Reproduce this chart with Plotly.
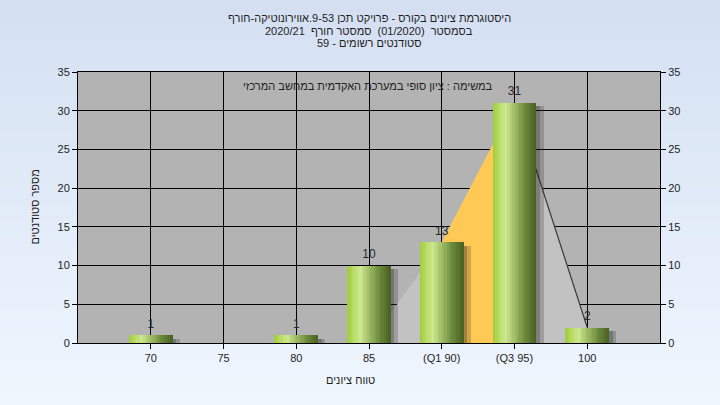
import base64, struct, zlib
import plotly.graph_objects as go

# ---------------- data ----------------
categories = ["70", "75", "80", "85", "(Q1 90)", "(Q3 95)", "100"]
students = [1, 0, 1, 10, 13, 31, 2]
# distribution area drawn behind the bars (from 85 to 100)
area_idx = [3, 4, 5, 6]
area_vals = [0, 13, 31, 2]
q_idx = [4, 5]          # Q1 .. Q3 highlighted band
y_ticks = [0, 5, 10, 15, 20, 25, 30, 35]

title_lines = [
    "היסטוגרמת ציונים בקורס - פרויקט תכן 53\u200f-\u200f9.אווירונוטיקה-חורף",
    "בסמסטר\u00a0 (01/2020)\u00a0 סמסטר חורף\u00a0 2020/21",
    "סטודנטים רשומים - 59",
]
subtitle = "במשימה : ציון סופי במערכת האקדמית במחשב המרכזי"
x_title = "טווח ציונים"
y_title = "מספר סטודנטים"

# ---------------- layout constants ----------------
W, H = 720, 405
ML, MR, MT, MB = 78, 60, 72, 62
PW, PH = W - ML - MR, H - MT - MB
FONT = "Liberation Sans, Arial, sans-serif"
FS = 11
TXT = "#1e1e1e"


def px_to_paper_y(py):
    return 1 - (py - MT) / PH


def px_to_paper_x(px):
    return (px - ML) / PW


# background gradient png (vertical)
def gradient_png(top, bottom, n=64):
    rows = []
    for i in range(n):
        t = i / (n - 1)
        c = [round(top[k] + (bottom[k] - top[k]) * t) for k in range(3)]
        rows.append(b"\x00" + bytes(c))
    raw = b"".join(rows)

    def chunk(tag, data):
        return struct.pack(">I", len(data)) + tag + data + struct.pack(">I", zlib.crc32(tag + data) & 0xffffffff)

    png = b"\x89PNG\r\n\x1a\n" + chunk(b"IHDR", struct.pack(">IIBBBBB", 1, n, 8, 2, 0, 0, 0))
    png += chunk(b"IDAT", zlib.compress(raw)) + chunk(b"IEND", b"")
    return "data:image/png;base64," + base64.b64encode(png).decode()


bg_src = gradient_png((212, 224, 242), (239, 246, 254))

fig = go.Figure()
xs = list(range(len(categories)))

# distribution area (base subplot, under the bars)
fig.add_trace(go.Scatter(x=area_idx, y=area_vals, mode="lines", line=dict(width=0),
                         fill="tozeroy", fillcolor="#c2c2c2", hoverinfo="skip", showlegend=False))
qa = [area_vals[area_idx.index(i)] for i in q_idx]
fig.add_trace(go.Scatter(x=q_idx, y=qa, mode="lines", line=dict(width=0),
                         fill="tozeroy", fillcolor="#ffc955", hoverinfo="skip", showlegend=False))
fig.add_trace(go.Scatter(x=area_idx[2:], y=area_vals[2:], mode="lines",
                         line=dict(width=1.2, color="#3a3a3a"), hoverinfo="skip", showlegend=False))

# bars on overlaying axes so they sit above the area
BW = 0.6
shadow_y = [v - 0.45 if v > 0 else 0 for v in students]
for dx, a in [(0.05, 0.25), (0.10, 0.22)]:
    fig.add_trace(go.Bar(x=xs, y=shadow_y, width=BW, offset=-BW / 2 + dx, xaxis="x2", yaxis="y2",
                         marker=dict(color="rgba(30,30,30,%s)" % a, line=dict(width=0)),
                         hoverinfo="skip", showlegend=False))

stops = [(0.0, (158, 204, 58)), (0.15, (186, 221, 102)), (0.3, (206, 231, 146)),
         (0.5, (160, 188, 100)), (0.75, (106, 136, 60)), (1.0, (72, 96, 32))]


def grad(t):
    for (p0, c0), (p1, c1) in zip(stops, stops[1:]):
        if p0 <= t <= p1:
            u = (t - p0) / (p1 - p0)
            return "rgb(%d,%d,%d)" % tuple(round(c0[k] + (c1[k] - c0[k]) * u) for k in range(3))
    return "rgb(72,96,32)"


N = 18
for i in range(N):
    t = (i + 0.5) / N
    fig.add_trace(go.Bar(x=xs, y=students, xaxis="x2", yaxis="y2",
                         width=BW * (N - i) / N, offset=-BW / 2 + BW * i / N,
                         marker=dict(color=grad(t), line=dict(width=0)),
                         hoverinfo="skip", showlegend=False))

# value labels
fig.add_trace(go.Scatter(x=xs, y=students, mode="markers+text", xaxis="x2", yaxis="y2",
                         marker=dict(size=6, opacity=0),
                         text=[str(v) if v else "" for v in students], textposition="top center",
                         textfont=dict(family=FONT, size=12, color="#2a2a2a"),
                         hoverinfo="skip", showlegend=False))

axis_common = dict(ticks="outside", ticklen=5, tickcolor="black", showline=True, linecolor="black",
                   linewidth=1, tickfont=dict(family=FONT, size=FS, color=TXT), zeroline=False)

annotations = []
for k, line in enumerate(title_lines):
    annotations.append(dict(text=line, x=0.5, xref="paper", xanchor="center",
                            y=px_to_paper_y([18, 31, 43][k]), yref="paper", yanchor="middle",
                            showarrow=False, font=dict(family=FONT, size=FS, color=TXT)))
annotations.append(dict(text=subtitle, x=px_to_paper_x(368), xref="paper", xanchor="center",
                        y=px_to_paper_y(86), yref="paper", yanchor="middle",
                        showarrow=False, font=dict(family=FONT, size=FS, color=TXT)))
annotations.append(dict(text=x_title, x=px_to_paper_x(350), xref="paper", xanchor="center",
                        y=px_to_paper_y(380), yref="paper", yanchor="middle",
                        showarrow=False, font=dict(family=FONT, size=FS, color=TXT)))
annotations.append(dict(text=y_title, x=px_to_paper_x(34), xref="paper", xanchor="center",
                        y=0.5, yref="paper", yanchor="middle", textangle=-90,
                        showarrow=False, font=dict(family=FONT, size=FS, color=TXT)))

fig.update_layout(
    width=W, height=H, margin=dict(l=ML, r=MR, t=MT, b=MB, pad=0),
    paper_bgcolor="#e2ebf8", plot_bgcolor="rgba(0,0,0,0)",
    barmode="overlay", bargap=0, showlegend=False,
    font=dict(family=FONT, size=FS, color=TXT),
    xaxis=dict(range=[-1, 7], tickvals=xs, ticktext=categories,
               showgrid=True, gridcolor="black", gridwidth=1, mirror=True, **axis_common),
    xaxis2=dict(range=[-1, 7], overlaying="x", visible=False, showgrid=False, zeroline=False),
    yaxis=dict(range=[0, 35], tickvals=y_ticks, showgrid=True, gridcolor="black", gridwidth=1,
               **axis_common),
    yaxis2=dict(range=[0, 35], tickvals=y_ticks, overlaying="y", side="right", showgrid=False,
                **axis_common),
    annotations=annotations,
    shapes=[dict(type="rect", xref="paper", yref="paper", x0=0, x1=1, y0=0, y1=1,
                 fillcolor="#b3b3b3", line=dict(width=0), layer="below")],
    images=[dict(source=bg_src, xref="paper", yref="paper", x=-ML / PW, y=1 + MT / PH,
                 sizex=W / PW, sizey=H / PH, sizing="stretch", xanchor="left", yanchor="top",
                 layer="below")],
)

fig.write_html("out.html", config={"displayModeBar": False},
               post_script="document.body.style.margin='0';")
